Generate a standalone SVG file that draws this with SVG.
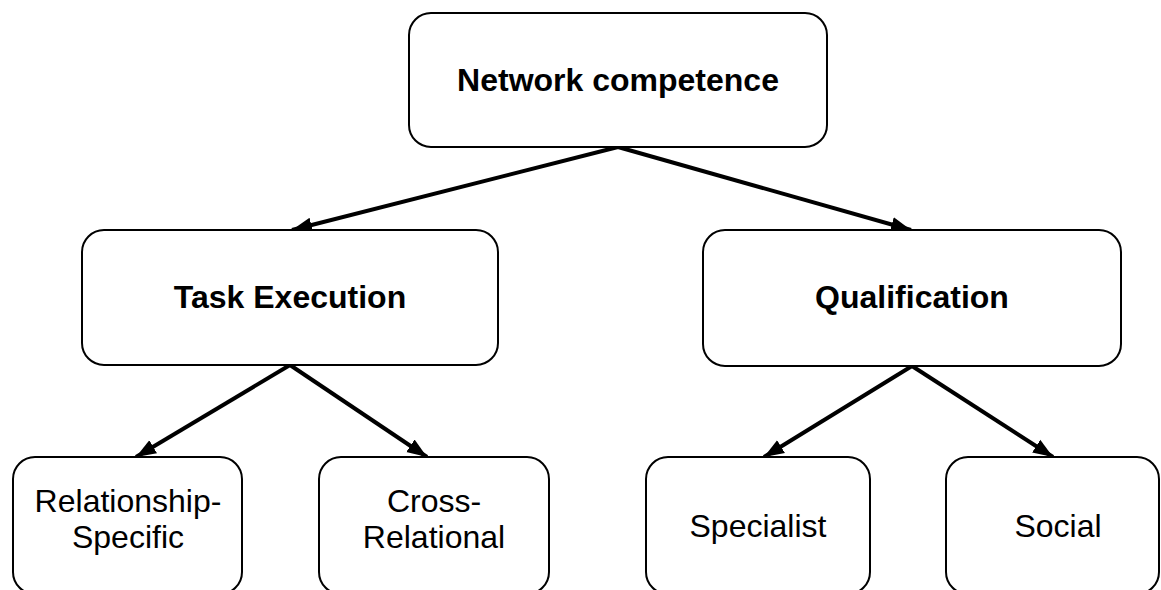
<svg xmlns="http://www.w3.org/2000/svg" width="1161" height="590" viewBox="0 0 1161 590">
  <style>
    .box { fill: #ffffff; stroke: #000000; stroke-width: 2; }
    .head { font-family: "Liberation Sans", Arial, sans-serif; font-size: 32px; font-weight: bold; fill: #000000; text-anchor: middle; }
    .leaf { font-family: "Liberation Sans", Arial, sans-serif; font-size: 32px; fill: #000000; text-anchor: middle; }
    .link { stroke: #000000; stroke-width: 4; fill: none; marker-end: url(#arrow); }
  </style>
  <defs>
    <marker id="arrow" markerUnits="userSpaceOnUse" markerWidth="22" markerHeight="18" refX="20" refY="9" orient="auto">
      <path d="M0,1.5 L20,9 L0,16.5 Z" fill="#000000"/>
    </marker>
  </defs>
  <rect width="1161" height="590" fill="#ffffff"/>

  <g id="connectors">
    <line class="link" x1="618" y1="147" x2="292" y2="230"/>
    <line class="link" x1="618" y1="147" x2="911" y2="230"/>
    <line class="link" x1="290" y1="365" x2="136" y2="457"/>
    <line class="link" x1="290" y1="365" x2="427" y2="457"/>
    <line class="link" x1="912" y1="366" x2="764" y2="457"/>
    <line class="link" x1="912" y1="366" x2="1053" y2="457"/>
  </g>

  <g id="network-competence">
    <rect class="box" x="409" y="13" width="418" height="134" rx="22" ry="22"/>
    <text class="head" x="618" y="91">Network competence</text>
  </g>

  <g id="task-execution">
    <rect class="box" x="82" y="230" width="416" height="135" rx="22" ry="22"/>
    <text class="head" x="290" y="308">Task Execution</text>
  </g>

  <g id="qualification">
    <rect class="box" x="703" y="230" width="418" height="136" rx="22" ry="22"/>
    <text class="head" x="912" y="308">Qualification</text>
  </g>

  <g id="relationship-specific">
    <rect class="box" x="13" y="457" width="229" height="137" rx="22" ry="22"/>
    <text class="leaf" x="128" y="512">Relationship-</text>
    <text class="leaf" x="128" y="548">Specific</text>
  </g>

  <g id="cross-relational">
    <rect class="box" x="319" y="457" width="230" height="137" rx="22" ry="22"/>
    <text class="leaf" x="434" y="512">Cross-</text>
    <text class="leaf" x="434" y="548">Relational</text>
  </g>

  <g id="specialist">
    <rect class="box" x="646" y="457" width="224" height="137" rx="22" ry="22"/>
    <text class="leaf" x="758" y="537">Specialist</text>
  </g>

  <g id="social">
    <rect class="box" x="946" y="457" width="213" height="137" rx="22" ry="22"/>
    <text class="leaf" x="1058" y="537">Social</text>
  </g>
</svg>
